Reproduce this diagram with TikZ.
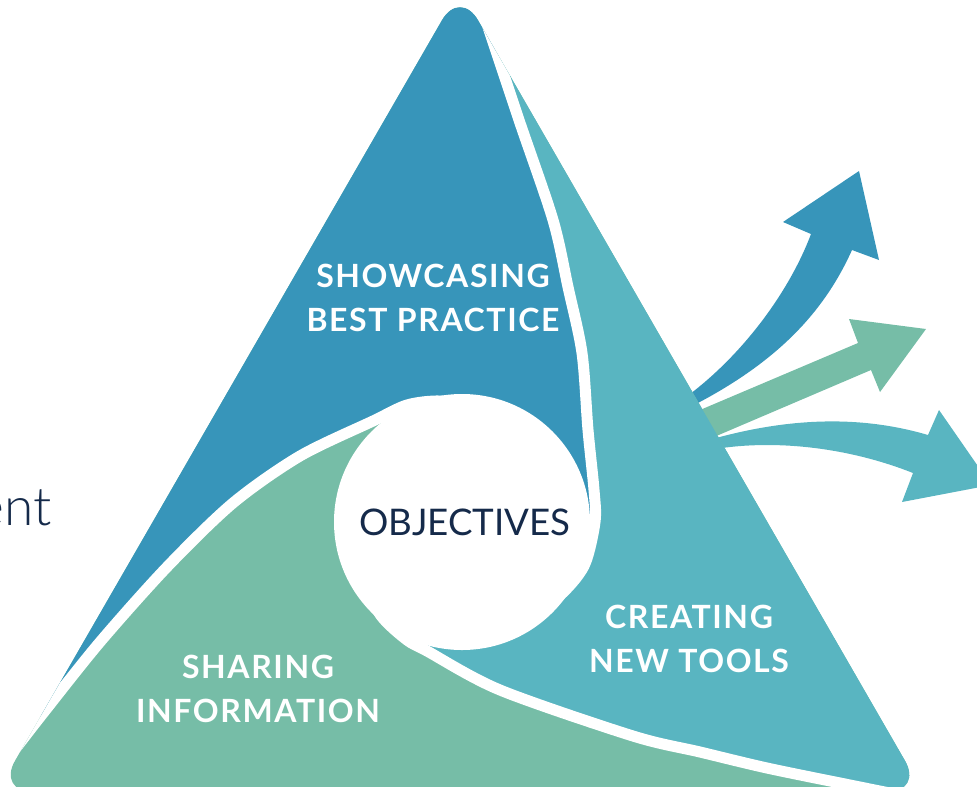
\documentclass[tikz,border=0pt]{standalone}
\usepackage{fontspec}
\setmainfont{Lato}
\newfontfamily\latolight{Lato Light}
\usepackage{tikz}

\definecolor{swirlblue}{RGB}{55,149,186}
\definecolor{swirlteal}{RGB}{89,181,193}
\definecolor{swirlgreen}{RGB}{118,189,167}
\definecolor{swirlnavy}{RGB}{21,42,74}

\begin{document}
\begin{tikzpicture}[
    x=0.75pt, y=-0.75pt,
    gap/.style={draw=white, line width=8.25pt},
    arrowbody/.style={draw=none},
    label/.style={text=white, align=center, inner sep=0pt, font=\bfseries\fontsize{24}{33}\selectfont\addfontfeatures{LetterSpace=5}},
    hub/.style={circle, fill=white, minimum size=192pt, inner sep=0pt, text=swirlnavy, font=\fontsize{27.5}{34}\selectfont}
  ]
    \useasboundingbox (0,0) rectangle (977,786);

    % three arrows leaving the right edge
    \fill[arrowbody, swirlblue] (690,394) .. controls (745,352) and (790,290) .. (811,234)
      -- (783,222) -- (859,171) -- (879,260) -- (852,250)
      .. controls (825,310) and (780,360) .. (696,404) -- cycle;
    \fill[arrowbody, swirlgreen] (700,410) -- (858,343) -- (849,319) -- (926,329)
      -- (880,392) -- (871,370) -- (714,437) -- cycle;
    \fill[arrowbody, swirlteal] (716,438) .. controls (790,418) and (860,415) .. (928,435)
      -- (939,410) -- (991,485) -- (902,502) -- (913,473)
      .. controls (850,448) and (780,440) .. (722,448) -- cycle;

    % the triangle, cut into three swirling parts
    \begin{scope}
      \clip[rounded corners=27pt] (460,-11) -- (923,792) -- (-3,792) -- cycle;
      \fill[swirlgreen] (-50,-50) rectangle (1050,850);
      \fill[swirlblue] (-60,-60)
        -- plot[smooth] coordinates {(472,-20) (489,30) (519,120) (553,220) (568,287) (582,353) (588,430) (594,490) (595,522) (584,566) (558,597) (526,614)}
        -- (462,522)
        -- plot[smooth] coordinates {(472,407) (440,401) (407,405) (373,421) (300,456) (233,503) (167,567) (100,642) (44,712) (16,748) (-9,780) (-34,812)}
        -- (-60,830) -- cycle;
      \fill[swirlteal] (1050,-60)
        -- plot[smooth] coordinates {(472,-20) (489,30) (519,120) (553,220) (568,287) (582,353) (588,430) (594,490) (595,522) (584,566) (558,597) (526,614)}
        -- (462,522)
        -- plot[smooth] coordinates {(360,581) (382,617) (407,640) (427,651) (500,690) (633,736) (700,752) (767,768) (850,785) (950,805) (1010,815)}
        -- (1050,830) -- cycle;
      % white cuts between the parts
      \draw[gap] plot[smooth] coordinates {(472,-20) (489,30) (519,120) (553,220) (568,287) (582,353) (588,430) (594,490) (595,522) (584,566) (558,597) (526,614)};
      \draw[gap] plot[smooth] coordinates {(360,581) (382,617) (407,640) (427,651) (500,690) (633,736) (700,752) (767,768) (850,785) (950,805) (1010,815)};
      \draw[gap] plot[smooth] coordinates {(472,407) (440,401) (407,405) (373,421) (300,456) (233,503) (167,567) (100,642) (44,712) (16,748) (-9,780) (-34,812)};
    \end{scope}

    \node[hub] (objectives) at (462,522) {\hspace{4.5pt}OBJECTIVES};

    \node[label] (showcasing) at (433,297.5) {SHOWCASING\\BEST PRACTICE};
    \node[label] (creating) at (689,639) {CREATING\\NEW TOOLS};
    \node[label] (sharing) at (258,688.5) {SHARING\\INFORMATION};

    \node[anchor=base east, inner sep=0pt, text=swirlnavy, font=\latolight\fontsize{40}{48}\selectfont] (word) at (52,525) {ent};
  \end{tikzpicture}
\end{document}
